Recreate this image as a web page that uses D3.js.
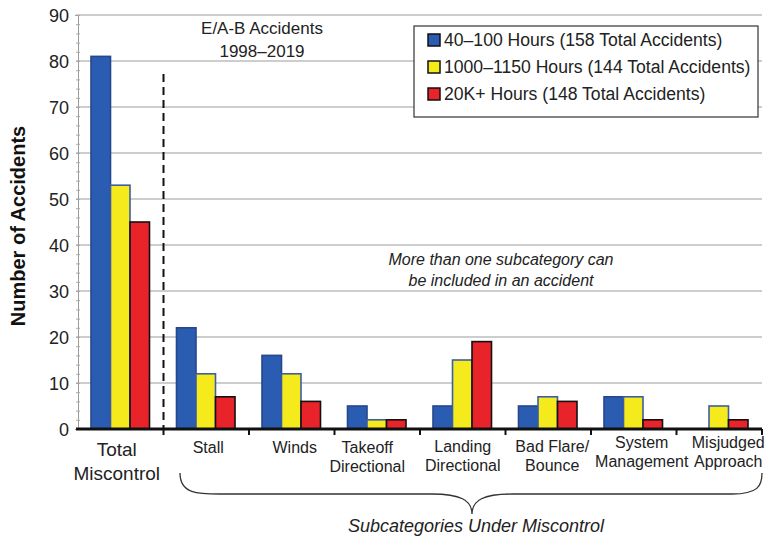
<!DOCTYPE html>
<html>
<head>
<meta charset="utf-8">
<script src="https://cdn.jsdelivr.net/npm/d3@7"></script>
<style>
  body { margin: 0; background: #fff; }
  svg { font-family: Arial, "Liberation Sans", Helvetica, sans-serif; }
</style>
</head>
<body>
<svg id="chart"></svg>
<script>
// data
const categories = ['Total Miscontrol', 'Stall', 'Winds', 'Takeoff Directional', 'Landing Directional',
    'Bad Flare/ Bounce', 'System Management', 'Misjudged Approach'];
const categoryLines = [['Total', 'Miscontrol'], ['Stall'], ['Winds'], ['Takeoff', 'Directional'],
    ['Landing', 'Directional'], ['Bad Flare/', 'Bounce'], ['System', 'Management'], ['Misjudged', 'Approach']];
const seriesNames = ['40\u2013100 Hours (158 Total Accidents)', '1000\u20131150 Hours (144 Total Accidents)',
    '20K+ Hours (148 Total Accidents)'];
const lowHours = [81, 22, 16, 5, 5, 5, 7, 0];
const midHours = [53, 12, 12, 2, 15, 7, 7, 5];
const highHours = [45, 7, 6, 2, 19, 6, 2, 2];
const yTicks = [0, 10, 20, 30, 40, 50, 60, 70, 80, 90];

const width = 765;
const height = 538;

const fills = ['#2a5cb2', '#f4ea1c', '#e8232a'];
const strokes = ['#27478c', '#3d5ea6', '#111111'];

const svg = d3.select('#chart')
    .attr('width', width)
    .attr('height', height);

// scales
const xScale = d3.scaleBand()
    .domain(categories)
    .range([78, 762])
    .padding(0);

const inner = d3.scaleBand()
    .domain([0, 1, 2])
    .range([13, 71.5])
    .padding(0);

const yScale = d3.scaleLinear()
    .domain([0, 90])
    .range([429, 15]);

// gridlines
svg.append('g')
    .selectAll('line')
    .data(yTicks.filter(d => d > 0))
    .join('line')
    .attr('x1', 76)
    .attr('x2', 762)
    .attr('y1', d => yScale(d))
    .attr('y2', d => yScale(d))
    .style('stroke', '#bdbdbd')
    .style('stroke-width', 1.5);

// y axis with minor ticks
const yAxis = svg.append('g')
    .attr('transform', 'translate(78, 0)')
    .call(d3.axisLeft(yScale).tickValues(d3.range(0, 91, 2)).tickSize(3).tickFormat(''));
yAxis.select('.domain').style('stroke', '#9a9a9a');
yAxis.selectAll('.tick line').style('stroke', '#aaa').attr('x2', 2).attr('x1', -2);

svg.append('g')
    .selectAll('text')
    .data(yTicks)
    .join('text')
    .attr('x', 69)
    .attr('y', d => yScale(d) + 6.5)
    .attr('text-anchor', 'end')
    .style('font-size', '18px')
    .style('fill', '#222')
    .text(d => d);

// bars
const seriesData = [lowHours, midHours, highHours];
seriesData.forEach((values, s) => {
    svg.append('g')
        .selectAll('rect')
        .data(values)
        .join('rect')
        .attr('x', (d, i) => xScale(categories[i]) + inner(s))
        .attr('y', d => yScale(d))
        .attr('width', inner.bandwidth())
        .attr('height', d => yScale(0) - yScale(d))
        .style('fill', fills[s])
        .style('stroke', d => d > 0 ? strokes[s] : 'none')
        .style('stroke-width', 1.6);
});

// x axis baseline with ticks between categories
svg.append('line')
    .attr('x1', 76)
    .attr('x2', 762)
    .attr('y1', yScale(0))
    .attr('y2', yScale(0))
    .style('stroke', '#111')
    .style('stroke-width', 3);

svg.append('g')
    .selectAll('line')
    .data(categories.slice(1).concat(['end']))
    .join('line')
    .attr('x1', d => d === 'end' ? 762 : xScale(d))
    .attr('x2', d => d === 'end' ? 762 : xScale(d))
    .attr('y1', yScale(0))
    .attr('y2', yScale(0) + 6)
    .style('stroke', '#111')
    .style('stroke-width', 2);

// dashed separator
svg.append('line')
    .attr('x1', xScale(categories[1]))
    .attr('x2', xScale(categories[1]))
    .attr('y1', 74)
    .attr('y2', yScale(0))
    .style('stroke', '#111')
    .style('stroke-width', 2)
    .style('stroke-dasharray', '8,5');

// category labels
const labelShift = [-4, 2, 3, -10, 0, 4, 8, 9];
const labelTop = [456, 453, 453, 453, 452, 452, 448, 448];
categoryLines.forEach((lines, i) => {
    const cx = xScale(categories[i]) + xScale.bandwidth() / 2 + labelShift[i];
    const big = i === 0;
    const t = svg.append('text')
        .attr('x', cx)
        .attr('y', labelTop[i])
        .attr('text-anchor', 'middle')
        .style('font-size', big ? '19px' : '16px')
        .style('fill', '#222');
    lines.forEach((line, k) => {
        t.append('tspan')
            .attr('x', cx)
            .attr('dy', k === 0 ? 0 : (big ? 24 : 19))
            .text(line);
    });
});

// brace under subcategories
const braceL = 180, braceR = 762, braceMid = 472, braceY = 494;
svg.append('path')
    .attr('d', `M${braceL},${473} C${braceL},${braceY} ${braceL + 18},${braceY} ${braceL + 40},${braceY}
        L${braceMid - 40},${braceY} C${braceMid - 12},${braceY} ${braceMid},${braceY + 6} ${braceMid},${514}
        C${braceMid},${braceY + 6} ${braceMid + 12},${braceY} ${braceMid + 40},${braceY}
        L${braceR - 30},${braceY} C${braceR - 4},${braceY} ${braceR},${braceY - 8} ${braceR},${473}`)
    .style('fill', 'none')
    .style('stroke', '#333')
    .style('stroke-width', 1.3);

svg.append('text')
    .attr('x', 476)
    .attr('y', 532)
    .attr('text-anchor', 'middle')
    .style('font-size', '18px')
    .style('font-style', 'italic')
    .style('fill', '#222')
    .text('Subcategories Under Miscontrol');

// title
svg.append('text')
    .attr('x', 262)
    .attr('y', 34)
    .attr('text-anchor', 'middle')
    .style('font-size', '17px')
    .style('fill', '#222')
    .text('E/A-B Accidents');

svg.append('text')
    .attr('x', 262)
    .attr('y', 57)
    .attr('text-anchor', 'middle')
    .style('font-size', '17px')
    .style('fill', '#222')
    .text('1998\u20132019');

// note
svg.append('text')
    .attr('x', 501)
    .attr('y', 265)
    .attr('text-anchor', 'middle')
    .style('font-size', '16px')
    .style('font-style', 'italic')
    .style('fill', '#222')
    .text('More than one subcategory can');

svg.append('text')
    .attr('x', 501)
    .attr('y', 286)
    .attr('text-anchor', 'middle')
    .style('font-size', '16px')
    .style('font-style', 'italic')
    .style('fill', '#222')
    .text('be included in an accident');

// y axis title
svg.append('text')
    .attr('transform', `translate(25, ${yScale(45) + 4}) rotate(-90)`)
    .attr('text-anchor', 'middle')
    .style('font-size', '20px')
    .style('font-weight', 'bold')
    .style('fill', '#111')
    .text('Number of Accidents');

// legend
svg.append('rect')
    .attr('x', 414)
    .attr('y', 26)
    .attr('width', 344)
    .attr('height', 91)
    .style('fill', '#fff')
    .style('stroke', '#333')
    .style('stroke-width', 1.2);

seriesNames.forEach((name, s) => {
    svg.append('rect')
        .attr('x', 428)
        .attr('y', 34 + s * 27)
        .attr('width', 12)
        .attr('height', 12)
        .style('fill', fills[s])
        .style('stroke', '#111')
        .style('stroke-width', 1.5);

    svg.append('text')
        .attr('x', 444)
        .attr('y', 46 + s * 27)
        .style('font-size', '17.6px')
        .style('fill', '#222')
        .text(name);
});
</script>
</body>
</html>
